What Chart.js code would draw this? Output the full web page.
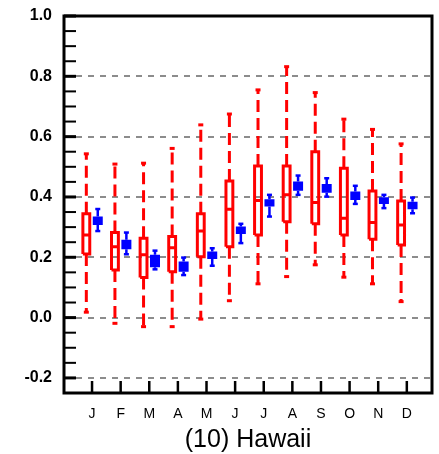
<!DOCTYPE html>
<html>
<head>
<meta charset="utf-8">
<script src="https://cdn.jsdelivr.net/npm/chart.js@4"></script>
<style>
  html, body { margin: 0; padding: 0; background: #fff; }
  canvas { display: block; }
</style>
</head>
<body>
<canvas id="hawaii" width="439" height="454"></canvas>
<script>
// month labels and y tick labels
var months = ['J', 'F', 'M', 'A', 'M', 'J', 'J', 'A', 'S', 'O', 'N', 'D'];
var yTicks = [-0.2, 0.0, 0.2, 0.4, 0.6, 0.8, 1.0];

// red boxes (wide spread)
var redMin = [0.018, -0.019, -0.030, -0.030, -0.005, 0.056, 0.112, 0.136, 0.175, 0.134, 0.112, 0.053];
var redQ1  = [0.211, 0.158, 0.133, 0.152, 0.202, 0.235, 0.274, 0.318, 0.311, 0.274, 0.260, 0.241];
var redMed = [0.274, 0.235, 0.208, 0.232, 0.287, 0.359, 0.388, 0.407, 0.382, 0.329, 0.315, 0.307];
var redQ3  = [0.344, 0.282, 0.263, 0.269, 0.344, 0.453, 0.503, 0.503, 0.550, 0.495, 0.420, 0.387];
var redMax = [0.543, 0.509, 0.512, 0.561, 0.639, 0.675, 0.755, 0.832, 0.746, 0.658, 0.624, 0.576];

// blue boxes (narrow spread)
var blueMin = [0.287, 0.210, 0.160, 0.141, 0.172, 0.247, 0.335, 0.407, 0.401, 0.377, 0.363, 0.346];
var blueQ1  = [0.307, 0.227, 0.167, 0.152, 0.194, 0.277, 0.368, 0.421, 0.414, 0.390, 0.377, 0.359];
var blueMed = [0.322, 0.241, 0.180, 0.176, 0.208, 0.288, 0.381, 0.437, 0.432, 0.407, 0.390, 0.373];
var blueQ3  = [0.335, 0.258, 0.208, 0.186, 0.219, 0.302, 0.392, 0.451, 0.443, 0.418, 0.399, 0.384];
var blueMax = [0.360, 0.282, 0.222, 0.199, 0.230, 0.311, 0.407, 0.471, 0.462, 0.437, 0.407, 0.398];

var RED = '#ff0000', BLUE = '#0000ff';
var redOff = -0.2, blueOff = 0.2;   // x shift of each box from the month tick
var redHalf = 0.12, medHalf = 0.07;
var GAP = { x: null, y: null };

function xOf(i, off) { return i + 1 + off; }

// vertical pieces: q3 -> max, q1 -> min
function whiskers(lo, q1, q3, hi, off) {
  var pts = [];
  months.forEach(function(m, i) {
    var x = xOf(i, off);
    pts.push({ x: x, y: q3[i] }, { x: x, y: hi[i] }, GAP, { x: x, y: q1[i] }, { x: x, y: lo[i] }, GAP);
  });
  return pts;
}
function caps(lo, hi, off) {
  var pts = [];
  months.forEach(function(m, i) {
    pts.push({ x: xOf(i, off), y: hi[i] }, { x: xOf(i, off), y: lo[i] });
  });
  return pts;
}
function rects(q1, q3, off, half) {
  var pts = [];
  months.forEach(function(m, i) {
    var x = xOf(i, off);
    pts.push({ x: x - half, y: q1[i] }, { x: x + half, y: q1[i] }, { x: x + half, y: q3[i] },
             { x: x - half, y: q3[i] }, { x: x - half, y: q1[i] }, GAP);
  });
  return pts;
}
function medians(med, off, half) {
  var pts = [];
  months.forEach(function(m, i) {
    var x = xOf(i, off);
    pts.push({ x: x - half, y: med[i] }, { x: x + half, y: med[i] }, GAP);
  });
  return pts;
}
function bars(q1, q3, off) {
  var pts = [];
  months.forEach(function(m, i) {
    pts.push({ x: xOf(i, off), y: q1[i] }, { x: xOf(i, off), y: q3[i] }, GAP);
  });
  return pts;
}

function lineSet(data, color, width, extra) {
  var ds = {
    type: 'line', data: data, borderColor: color, borderWidth: width,
    pointRadius: 0, fill: false, tension: 0, spanGaps: false,
    borderJoinStyle: 'miter', borderCapStyle: 'butt'
  };
  for (var k in extra) ds[k] = extra[k];
  return ds;
}
function capSet(data, color, r, width) {
  return {
    type: 'scatter', data: data, showLine: false, pointStyle: 'line',
    pointRadius: r, borderColor: color, backgroundColor: color, pointBorderWidth: width, borderWidth: width
  };
}

// inward tick marks and the heavy frame
var framePlugin = {
  id: 'frame',
  afterDatasetsDraw: function(chart) {
    var ctx = chart.ctx, a = chart.chartArea, x = chart.scales.x, y = chart.scales.y;
    ctx.save();
    ctx.strokeStyle = '#000';
    for (var k = -5; k <= 20; k++) {
      var py = y.getPixelForValue(k * 0.05);
      var major = (k % 4 === 0);
      ctx.lineWidth = major ? 3 : 2;
      ctx.beginPath();
      ctx.moveTo(a.left, py);
      ctx.lineTo(a.left + 12, py);
      ctx.stroke();
    }
    ctx.lineWidth = 2.5;
    months.forEach(function(m, i) {
      var px = x.getPixelForValue(i + 1);
      ctx.beginPath();
      ctx.moveTo(px, a.bottom);
      ctx.lineTo(px, a.bottom - 12);
      ctx.stroke();
    });
    ctx.lineWidth = 3;
    ctx.strokeRect(a.left, a.top, a.right - a.left, a.bottom - a.top);
    ctx.restore();
  }
};

var FONT = '"Liberation Sans", Arial, sans-serif';

new Chart(document.getElementById('hawaii'), {
  type: 'scatter',
  data: {
    datasets: [
      lineSet(whiskers(redMin, redQ1, redQ3, redMax, redOff), RED, 3, { borderDash: [12, 6] }),
      capSet(caps(redMin, redMax, redOff), RED, 2.5, 3),
      lineSet(rects(redQ1, redQ3, redOff, redHalf), RED, 3),
      lineSet(medians(redMed, redOff, redHalf), RED, 3),
      lineSet(whiskers(blueMin, blueQ1, blueQ3, blueMax, blueOff), BLUE, 2.5),
      capSet(caps(blueMin, blueMax, blueOff), BLUE, 2.5, 2.5),
      lineSet(bars(blueQ1, blueQ3, blueOff), BLUE, 10),
      lineSet(medians(blueMed, blueOff, medHalf), '#9a9aff', 1.5)
    ]
  },
  options: {
    responsive: false,
    animation: false,
    devicePixelRatio: 1,
    layout: { padding: { top: 16, right: 2, left: 0, bottom: 0 } },
    plugins: { legend: { display: false }, tooltip: { enabled: false } },
    scales: {
      x: {
        type: 'linear',
        min: 0.02,
        max: 12.88,
        afterBuildTicks: function(s) {
          s.ticks = months.map(function(m, i) { return { value: i + 1 }; });
        },
        afterFit: function(s) { s.height = 61; s.paddingLeft = 0; s.paddingRight = 0; },
        grid: { display: false, drawTicks: false },
        border: { display: false },
        ticks: {
          autoSkip: false, maxRotation: 0, padding: 13, color: '#000',
          font: { family: FONT, size: 14 },
          callback: function(v, i) { return months[i]; }
        },
        title: {
          display: true, text: '(10) Hawaii', color: '#000',
          font: { family: FONT, size: 25, lineHeight: 1.1 },
          padding: { top: 0, bottom: 0 }
        }
      },
      y: {
        min: -0.25,
        max: 1.0,
        afterBuildTicks: function(s) {
          s.ticks = yTicks.map(function(v) { return { value: v }; });
        },
        afterFit: function(s) { s.width = 64; s.paddingTop = 0; s.paddingBottom = 0; },
        grid: { color: '#8c8c8c', lineWidth: 2, drawTicks: false },
        border: { display: false, dash: [6, 6] },
        ticks: {
          padding: 12, color: '#000',
          font: { family: FONT, size: 16, weight: 'bold' },
          callback: function(v) { return v.toFixed(1); }
        }
      }
    }
  },
  plugins: [framePlugin]
});
</script>
</body>
</html>
